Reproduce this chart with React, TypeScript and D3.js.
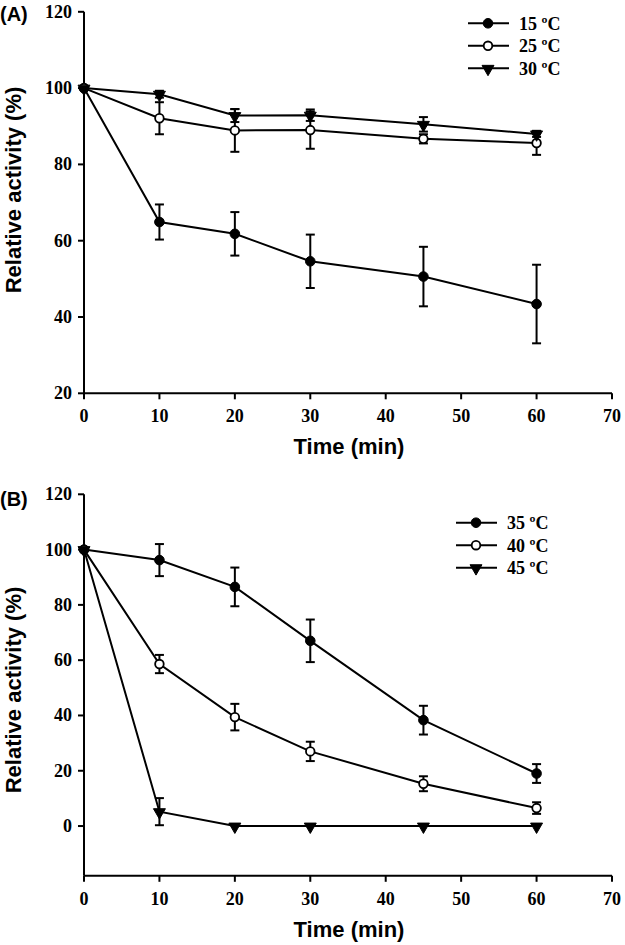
import React from "react";
import * as d3 from "d3";

const times = [0, 10, 20, 30, 45, 60];
const xTicks = [0, 10, 20, 30, 40, 50, 60, 70];
const yTicksA = [20, 40, 60, 80, 100, 120];
const yTicksB = [0, 20, 40, 60, 80, 100, 120];

const labelsA = ["15 ºC", "25 ºC", "30 ºC"];
const meanA15 = [100, 64.9, 61.8, 54.6, 50.6, 43.4];
const errA15 = [0, 4.6, 5.7, 7.0, 7.8, 10.3];
const meanA25 = [100, 92.1, 88.9, 89.0, 86.7, 85.6];
const errA25 = [0, 4.2, 5.6, 4.9, 1.2, 3.1];
const meanA30 = [100, 98.4, 92.8, 92.9, 90.5, 88.0];
const errA30 = [0, 0.9, 1.7, 1.5, 1.9, 0.8];

const labelsB = ["35 ºC", "40 ºC", "45 ºC"];
const meanB35 = [100, 96.2, 86.5, 67.0, 38.3, 19.0];
const errB35 = [0, 5.8, 7.0, 7.7, 5.2, 3.4];
const meanB40 = [100, 58.6, 39.4, 27.0, 15.3, 6.5];
const errB40 = [0, 3.3, 4.8, 3.5, 2.7, 2.1];
const meanB45 = [100, 5.2, 0, 0, 0, 0];
const errB45 = [0, 4.9, 0, 0, 0, 0];

type Series = { label: string; mean: number[]; err: number[]; marker: "filled" | "open" | "tri" };

const seriesA: Series[] = [
  { label: labelsA[0], mean: meanA15, err: errA15, marker: "filled" },
  { label: labelsA[1], mean: meanA25, err: errA25, marker: "open" },
  { label: labelsA[2], mean: meanA30, err: errA30, marker: "tri" },
];
const seriesB: Series[] = [
  { label: labelsB[0], mean: meanB35, err: errB35, marker: "filled" },
  { label: labelsB[1], mean: meanB40, err: errB40, marker: "open" },
  { label: labelsB[2], mean: meanB45, err: errB45, marker: "tri" },
];

const serif = "'Liberation Serif', 'Times New Roman', serif";
const sans = "'Liberation Sans', Arial, sans-serif";

function Marker({ type, x, y }: { type: string; x: number; y: number }) {
  if (type === "tri") {
    const p = d3.symbol().type(d3.symbolTriangle).size(62)();
    return <path d={p as string} transform={`translate(${x},${y + 0.5}) rotate(180)`} fill="#000" stroke="#000" strokeWidth={1} />;
  }
  return (
    <circle cx={x} cy={y} r={type === "open" ? 4.3 : 4.8} fill={type === "open" ? "#fff" : "#000"} stroke="#000" strokeWidth={type === "open" ? 1.8 : 1} />
  );
}

function Panel({
  series, yDomain, yRange, yTicks, panelLabel, labelY, titleY, legendX, legendY,
}: {
  series: Series[]; yDomain: [number, number]; yRange: [number, number]; yTicks: number[];
  panelLabel: string; labelY: number; titleY: number; legendX: number; legendY: number;
}) {
  const x = d3.scaleLinear().domain([0, 70]).range([84, 612]);
  const y = d3.scaleLinear().domain(yDomain).range(yRange);
  const y0 = y(yDomain[0]);
  const line = d3.line<[number, number]>().x((d) => x(d[0])).y((d) => y(d[1]));
  const cap = 4.5;
  return (
    <g>
      <text x={0} y={labelY} fontFamily={sans} fontWeight="bold" fontSize={20}>{panelLabel}</text>
      {/* axes */}
      <line x1={x(0)} x2={x(0)} y1={y(yDomain[1])} y2={y0} stroke="#000" strokeWidth={2} />
      <line x1={x(0)} x2={x(70)} y1={y0} y2={y0} stroke="#000" strokeWidth={2} />
      {yTicks.map((t) => (
        <g key={"y" + t}>
          <line x1={x(0) - 6} x2={x(0)} y1={y(t)} y2={y(t)} stroke="#000" strokeWidth={2} />
          <text x={x(0) - 12} y={y(t) + 6} textAnchor="end" fontFamily={serif} fontWeight="bold" fontSize={18}>{t}</text>
        </g>
      ))}
      {xTicks.map((t) => (
        <g key={"x" + t}>
          <line x1={x(t)} x2={x(t)} y1={y0} y2={y0 + 6} stroke="#000" strokeWidth={2} />
          <text x={x(t)} y={y0 + 29} textAnchor="middle" fontFamily={serif} fontWeight="bold" fontSize={18}>{t}</text>
        </g>
      ))}
      <text x={349} y={y0 + 61} textAnchor="middle" fontFamily={sans} fontWeight="bold" fontSize={22}>Time (min)</text>
      <text transform={`translate(21,${titleY}) rotate(-90)`} textAnchor="middle" fontFamily={sans} fontWeight="bold" fontSize={22}>Relative activity (%)</text>
      {/* lines */}
      {series.map((s) => (
        <path key={"l" + s.label} d={line(times.map((t, i) => [t, s.mean[i]] as [number, number])) as string} fill="none" stroke="#000" strokeWidth={2} />
      ))}
      {/* error bars */}
      {series.map((s) =>
        times.map((t, i) =>
          s.err[i] > 0 ? (
            <g key={"e" + s.label + t} stroke="#000" strokeWidth={2}>
              <line x1={x(t)} x2={x(t)} y1={y(s.mean[i] - s.err[i])} y2={y(s.mean[i] + s.err[i])} />
              <line x1={x(t) - cap} x2={x(t) + cap} y1={y(s.mean[i] + s.err[i])} y2={y(s.mean[i] + s.err[i])} />
              <line x1={x(t) - cap} x2={x(t) + cap} y1={y(s.mean[i] - s.err[i])} y2={y(s.mean[i] - s.err[i])} />
            </g>
          ) : null
        )
      )}
      {/* markers */}
      {series.map((s) =>
        times.map((t, i) => <Marker key={"m" + s.label + t} type={s.marker} x={x(t)} y={y(s.mean[i])} />)
      )}
      {/* legend */}
      {series.map((s, i) => {
        const ly = legendY + i * 22.5;
        return (
          <g key={"lg" + s.label}>
            <line x1={legendX} x2={legendX + 41} y1={ly} y2={ly} stroke="#000" strokeWidth={2} />
            <Marker type={s.marker} x={legendX + 20} y={ly} />
            <text x={legendX + 51} y={ly + 6.5} fontFamily={serif} fontWeight="bold" fontSize={18}>{s.label}</text>
          </g>
        );
      })}
    </g>
  );
}

export default function App() {
  return (
    <svg width={625} height={945} style={{ position: "absolute", left: 0, top: 0, background: "#fff" }}>
      <rect width={625} height={945} fill="#fff" />
      <Panel series={seriesA} yDomain={[20, 120]} yRange={[393.3, 11.8]} yTicks={yTicksA}
        panelLabel="(A)" labelY={21} titleY={190} legendX={468} legendY={23.3} />
      <Panel series={seriesB} yDomain={[-18, 120]} yRange={[875.8, 494.3]} yTicks={yTicksB}
        panelLabel="(B)" labelY={506} titleY={690} legendX={456} legendY={522.7} />
    </svg>
  );
}
